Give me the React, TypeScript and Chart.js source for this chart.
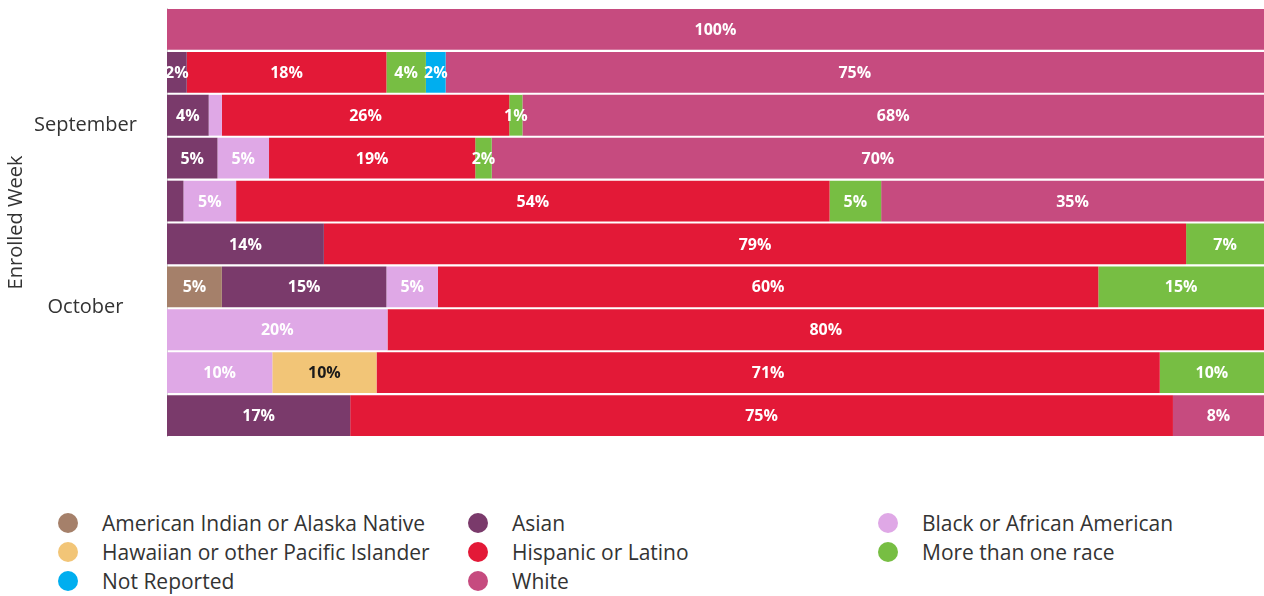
import React, { useEffect, useRef } from "react";
import { Chart, registerables } from "chart.js";

Chart.register(...registerables);

// Enrolled weeks (rows, top to bottom)
const weeks = ["W1", "W2", "W3", "W4", "W5", "W6", "W7", "W8", "W9", "W10"];
// Month tick labels shown on the y axis
const monthTicks = ["", "", "September", "", "", "", "October", "", "", ""];

const seriesNames = [
  "American Indian or Alaska Native",
  "Asian",
  "Black or African American",
  "Hawaiian or other Pacific Islander",
  "Hispanic or Latino",
  "More than one race",
  "Not Reported",
  "White",
];

const americanIndian = [0, 0, 0, 0, 0, 0, 5.0, 0, 0, 0];
const asian = [0, 1.8, 3.8, 4.6, 1.5, 14.3, 15.0, 0, 0, 16.7];
const black = [0, 0, 1.2, 4.7, 4.8, 0, 4.7, 20.1, 9.6, 0];
const hawaiian = [0, 0, 0, 0, 0, 0, 0, 0, 9.5, 0];
const hispanic = [0, 18.2, 26.2, 18.8, 54.1, 78.6, 60.2, 79.9, 71.4, 75.0];
const moreThanOne = [0, 3.6, 1.2, 1.5, 4.7, 7.1, 15.1, 0, 9.5, 0];
const notReported = [0, 1.8, 0, 0, 0, 0, 0, 0, 0, 0];
const white = [100, 74.6, 67.6, 70.4, 34.9, 0, 0, 0, 0, 8.3];

const seriesValues = [americanIndian, asian, black, hawaiian, hispanic, moreThanOne, notReported, white];

const seriesColors = [
  "#A5806A",
  "#7A3A6B",
  "#DFA8E6",
  "#F2C577",
  "#E31937",
  "#77BE43",
  "#00AEEF",
  "#C64B7F",
];

// segments whose value label is not shown: [series index, week index]
const hiddenLabels = [
  [2, 2],
  [1, 4],
];

// legend order, column by column (3 rows per column)
const legendOrder = [0, 3, 6, 1, 4, 7, 2, 5];

const FONT = "'Open Sans', 'Noto Sans', sans-serif";

const labelPlugin = {
  id: "segLabels",
  afterDatasetsDraw(chart: any) {
    const ctx = chart.ctx;
    ctx.save();
    ctx.font = `bold 16px ${FONT}`;
    ctx.textAlign = "center";
    ctx.textBaseline = "middle";
    chart.data.datasets.forEach((ds: any, di: number) => {
      const meta = chart.getDatasetMeta(di);
      meta.data.forEach((bar: any, i: number) => {
        const v = ds.data[i];
        if (!v) return;
        if (hiddenLabels.some(([s, w]) => s === di && w === i)) return;
        const x = (bar.x + bar.base) / 2;
        ctx.fillStyle = di === 3 ? "#1a1a1a" : "#ffffff";
        ctx.fillText(Math.round(v) + "%", x, bar.y + 1);
      });
    });
    ctx.restore();
  },
};

export default function App() {
  const ref = useRef<HTMLCanvasElement>(null);
  useEffect(() => {
    if (!ref.current) return;
    const chart = new Chart(ref.current, {
      type: "bar",
      data: {
        labels: weeks,
        datasets: seriesNames.map((name, i) => ({
          label: name,
          data: seriesValues[i],
          backgroundColor: seriesColors[i],
          borderWidth: 0,
          barPercentage: 0.95,
          categoryPercentage: 1,
        })),
      },
      options: {
        indexAxis: "y",
        responsive: false,
        animation: false,
        layout: { padding: { top: 8, right: 0, bottom: 0, left: 0 } },
        plugins: {
          legend: { display: false },
          tooltip: { enabled: false },
        },
        scales: {
          x: { stacked: true, min: 0, max: 100, display: false },
          y: {
            stacked: true,
            afterFit: (scale: any) => {
              scale.width = 167;
              scale.paddingTop = 0;
              scale.paddingBottom = 0;
            },
            grid: { display: false, drawTicks: false },
            border: { display: true, color: "#d4d4d4", width: 1 },
            title: {
              display: true,
              text: "Enrolled Week",
              color: "#333333",
              font: { family: FONT, size: 20 },
              padding: { top: 4, bottom: 4 },
            },
            ticks: {
              autoSkip: false,
              crossAlign: "center",
              padding: 30,
              color: "#333333",
              font: { family: FONT, size: 20, lineHeight: 1 },
              callback: (_v: any, i: number) => {
                const t = monthTicks[i];
                if (!t) return "";
                return i === 2 ? ["", t] : ["", "", t];
              },
            },
          },
        },
      },
      plugins: [labelPlugin],
    });
    return () => chart.destroy();
  }, []);

  const colX = [68, 478, 888];
  const rowY = [523, 552, 581];

  return (
    <div style={{ position: "absolute", left: 0, top: 0, width: 1264, height: 596, background: "#fff" }}>
      <canvas ref={ref} width={1264} height={437} style={{ display: "block" }} />
      {legendOrder.map((si, k) => {
        const c = Math.floor(k / 3);
        const r = k % 3;
        return (
          <div key={si}>
            <div
              style={{
                position: "absolute",
                left: colX[c] - 10,
                top: rowY[r] - 10,
                width: 20,
                height: 20,
                borderRadius: "50%",
                background: seriesColors[si],
              }}
            />
            <div
              style={{
                position: "absolute",
                left: colX[c] + 34,
                top: rowY[r] - 14,
                height: 28,
                lineHeight: "28px",
                fontFamily: FONT,
                fontSize: 21,
                color: "#333333",
                whiteSpace: "nowrap",
              }}
            >
              {seriesNames[si]}
            </div>
          </div>
        );
      })}
    </div>
  );
}
